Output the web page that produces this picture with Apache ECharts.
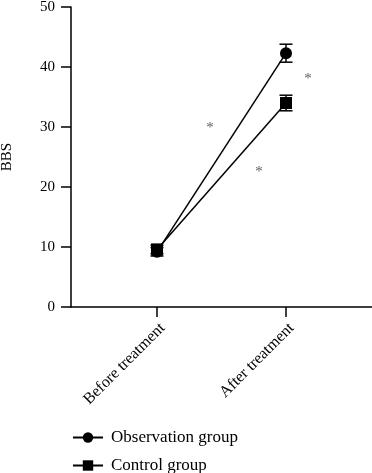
<!DOCTYPE html>
<html><head><meta charset="utf-8">
<script src="https://cdn.jsdelivr.net/npm/echarts@6/dist/echarts.min.js"></script>
<style>html,body{margin:0;padding:0;background:#fff}#c{width:372px;height:473px}</style>
</head><body><div id="c"></div>
<script>
const categories = ['Before treatment', 'After treatment'];
const seriesNames = ['Observation group', 'Control group'];
const observationMean = [9.2, 42.3];
const observationErr = [0.7, 1.5];
const controlMean = [9.6, 34.0];
const controlErr = [0.7, 1.3];
const yTicks = [0, 10, 20, 30, 40, 50];
const asterisks = [[0.41, 29.8], [0.79, 22.5], [1.17, 38.0]];

const FONT = '"Liberation Serif", "DejaVu Serif", serif';
const chart = echarts.init(document.getElementById('c'), null, {renderer: 'canvas'});

function errSeries(mean, err) {
  return {
    type: 'custom',
    silent: true,
    z: 1,
    data: mean.map((m, i) => [i, m - err[i], m + err[i]]),
    renderItem: function (params, api) {
      const x = api.value(0);
      const lo = api.coord([x, api.value(1)]);
      const hi = api.coord([x, api.value(2)]);
      const hw = 6.5;
      const st = {stroke: '#000', lineWidth: 1.5};
      return {type: 'group', children: [
        {type: 'line', shape: {x1: lo[0], y1: lo[1], x2: hi[0], y2: hi[1]}, style: st},
        {type: 'line', shape: {x1: lo[0] - hw, y1: lo[1], x2: lo[0] + hw, y2: lo[1]}, style: st},
        {type: 'line', shape: {x1: hi[0] - hw, y1: hi[1], x2: hi[0] + hw, y2: hi[1]}, style: st}
      ]};
    }
  };
}

function legendFor(name, top) {
  return {
    orient: 'vertical', left: 72, top: top, padding: 0, itemWidth: 30, itemHeight: 13,
    data: [name],
    textStyle: {fontFamily: FONT, fontSize: 17, color: '#000', padding: [0, 0, 0, 3]}
  };
}

chart.setOption({
  animation: false,
  backgroundColor: '#fff',
  grid: {left: 71, right: 0, top: 7, bottom: 166, containLabel: false, outerBoundsMode: 'none'},
  legend: [legendFor(seriesNames[0], 429), legendFor(seriesNames[1], 457)],
  xAxis: {
    type: 'value', min: -2/3, max: 5/3,
    splitLine: {show: false},
    axisLine: {show: true, onZero: false, lineStyle: {color: '#000', width: 1.5}},
    axisTick: {show: true, customValues: [0, 1], length: 10, lineStyle: {color: '#000', width: 1.5}},
    axisLabel: {show: true, customValues: [0, 1], rotate: 45, margin: 13, verticalAlign: 'top',
      formatter: v => categories[Math.round(v)] || '',
      fontFamily: FONT, fontSize: 16, color: '#000'}
  },
  yAxis: {
    type: 'value', min: 0, max: 50, interval: 10,
    name: 'BBS', nameLocation: 'middle', nameGap: 56, nameRotate: 90,
    nameTextStyle: {fontFamily: FONT, fontSize: 15, color: '#000'},
    splitLine: {show: false},
    axisLine: {show: true, onZero: false, lineStyle: {color: '#000', width: 1.5}},
    axisTick: {show: true, length: 10, lineStyle: {color: '#000', width: 1.5}},
    axisLabel: {fontFamily: FONT, fontSize: 15, color: '#000', margin: 16,
      formatter: v => yTicks.includes(v) ? String(v) : ''}
  },
  series: [
    errSeries(observationMean, observationErr),
    errSeries(controlMean, controlErr),
    {
      name: seriesNames[0], type: 'line', z: 3,
      data: observationMean.map((m, i) => [i, m]),
      symbol: 'circle', symbolSize: 12,
      lineStyle: {color: '#000', width: 1.5},
      itemStyle: {color: '#000'}
    },
    {
      name: seriesNames[1], type: 'line', z: 3,
      data: controlMean.map((m, i) => [i, m]),
      symbol: 'rect', symbolSize: 12,
      lineStyle: {color: '#000', width: 1.5},
      itemStyle: {color: '#000'}
    },
    {
      type: 'scatter', silent: true, symbolSize: 0,
      data: asterisks,
      label: {show: true, position: 'inside', formatter: '*', fontFamily: FONT, fontSize: 15, color: '#333'}
    }
  ]
});
</script></body></html>
